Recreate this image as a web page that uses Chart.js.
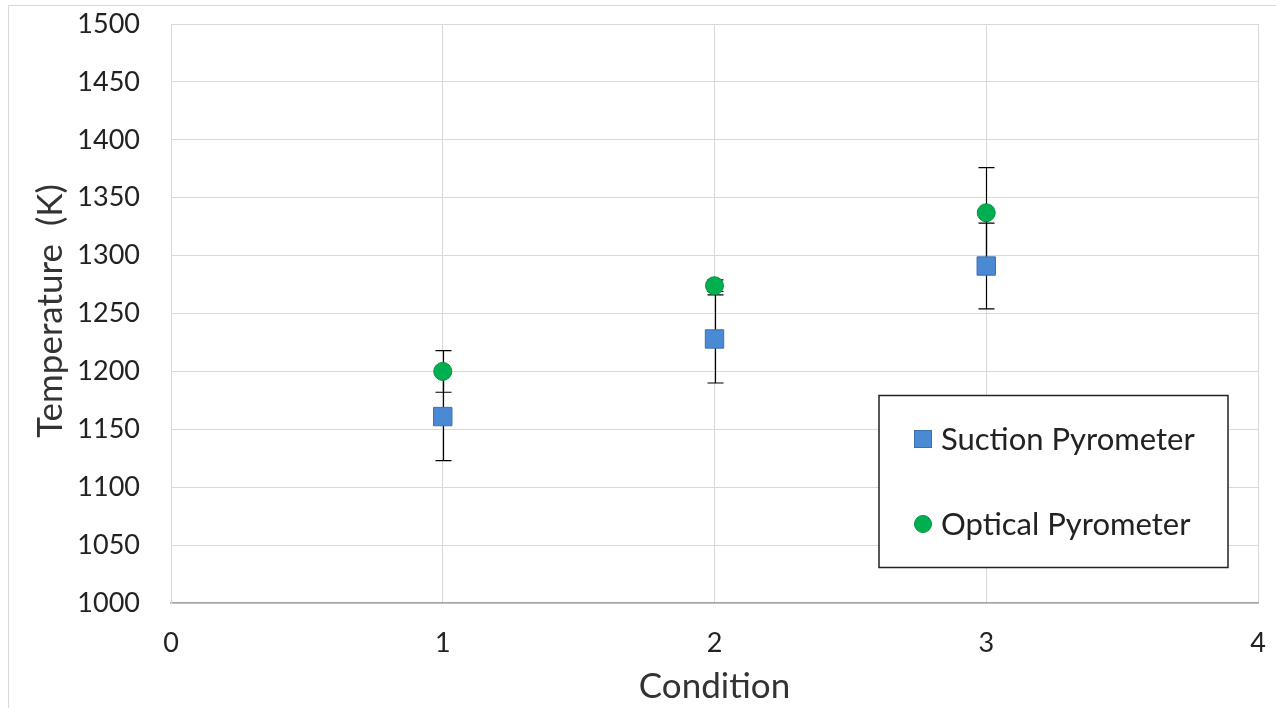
<!DOCTYPE html>
<html>
<head>
<meta charset="utf-8">
<script src="https://cdn.jsdelivr.net/npm/chart.js@4"></script>
<style>
  html, body { margin: 0; padding: 0; background: #fff; }
  #wrap { width: 1276px; height: 708px; position: relative; }
</style>
</head>
<body>
<div id="wrap"><canvas id="chart"></canvas></div>
<script>
// Données
const conditions = [1, 2, 3];
const suctionTemp = [1161, 1228, 1291];
const suctionErr = [38, 38, 37];
const opticalTemp = [1200, 1274, 1337];
const opticalErr = [18, 5, 39];
const seriesLabels = ['Suction Pyrometer', 'Optical Pyrometer'];
const xTitle = 'Condition';
const yTitle = 'Temperature  (K)';

const FONT = 'Lato, "Open Sans", sans-serif';

function toPoints(xs, ys, errs) {
    return xs.map((x, i) => ({ x: x, y: ys[i], err: errs[i] }));
}

// Barres d'erreur (dessinées avant les marqueurs)
const errorBars = {
    id: 'errorBars',
    beforeDatasetsDraw(chart) {
        const ctx = chart.ctx;
        const xs = chart.scales.x, ys = chart.scales.y;
        ctx.save();
        ctx.strokeStyle = '#000';
        ctx.lineWidth = 1.2;
        chart.data.datasets.forEach(ds => {
            ds.data.forEach(p => {
                const px = Math.round(xs.getPixelForValue(p.x)) + 0.5;
                const top = ys.getPixelForValue(p.y + p.err);
                const bot = ys.getPixelForValue(p.y - p.err);
                ctx.beginPath();
                ctx.moveTo(px, top); ctx.lineTo(px, bot);
                ctx.moveTo(px - 8, top); ctx.lineTo(px + 8, top);
                ctx.moveTo(px - 8, bot); ctx.lineTo(px + 8, bot);
                ctx.stroke();
            });
        });
        ctx.restore();
    }
};

// Légende encadrée, titre Y et cadre extérieur
const boxLegend = {
    id: 'boxLegend',
    afterDraw(chart) {
        const ctx = chart.ctx;
        ctx.save();
        ctx.strokeStyle = '#d9d9d9';
        ctx.lineWidth = 1;
        ctx.strokeRect(8.5, 5.5, 1290, 720);

        // titre de l'axe Y
        ctx.save();
        ctx.translate(51, 311);
        ctx.rotate(-Math.PI / 2);
        ctx.fillStyle = '#333';
        ctx.font = '35px ' + FONT;
        ctx.textAlign = 'center';
        ctx.textBaseline = 'middle';
        ctx.fillText(yTitle, 0, 0);
        ctx.restore();

        ctx.fillStyle = '#fff';
        ctx.fillRect(879, 395, 349, 172);
        ctx.strokeStyle = '#222';
        ctx.lineWidth = 1.5;
        ctx.strokeRect(879, 395.5, 349, 172);

        const rows = [439, 524];
        chart.data.datasets.forEach((ds, i) => {
            const y = rows[i];
            ctx.fillStyle = ds.backgroundColor;
            ctx.strokeStyle = ds.borderColor;
            ctx.lineWidth = 1;
            if (ds.pointStyle === 'rect') {
                ctx.fillRect(914, y - 9, 18, 18);
                ctx.strokeRect(914.5, y - 8.5, 17, 17);
            } else {
                ctx.beginPath();
                ctx.arc(923, y, 8.5, 0, Math.PI * 2);
                ctx.fill();
                ctx.stroke();
            }
            ctx.fillStyle = '#222';
            ctx.font = '31px ' + FONT;
            ctx.textBaseline = 'middle';
            ctx.fillText(ds.label, 941, y + 1);
        });
        ctx.restore();
    }
};

const chart = new Chart(document.getElementById('chart').getContext('2d'), {
    type: 'scatter',
    data: {
        datasets: [
            {
                label: seriesLabels[0],
                data: toPoints(conditions, suctionTemp, suctionErr),
                pointStyle: 'rect',
                pointRadius: 13,
                pointHoverRadius: 13,
                backgroundColor: '#4a8ad4',
                borderColor: '#3c6fae',
                borderWidth: 1,
            },
            {
                label: seriesLabels[1],
                data: toPoints(conditions, opticalTemp, opticalErr),
                pointStyle: 'circle',
                pointRadius: 9,
                pointHoverRadius: 9,
                backgroundColor: '#00b050',
                borderColor: '#00923f',
                borderWidth: 1,
            },
        ],
    },
    options: {
        responsive: true,
        maintainAspectRatio: false,
        animation: false,
        layout: { padding: { left: 8, right: 18, top: 24, bottom: 0 } },
        plugins: {
            legend: { display: false },
            tooltip: { enabled: false },
        },
        scales: {
            x: {
                type: 'linear',
                min: 0,
                max: 4,
                ticks: { stepSize: 1, color: '#222', padding: 24, font: { family: FONT, size: 27 } },
                grid: { color: '#d9d9d9', lineWidth: 1, drawTicks: false },
                border: { color: '#a6a6a6', width: 1.5 },
                title: {
                    display: true,
                    text: xTitle,
                    color: '#333',
                    font: { family: FONT, size: 35 },
                    padding: { top: 0, bottom: 0 },
                },
                afterFit(scale) {
                    scale.height = 105;
                    scale.paddingLeft = 0;
                    scale.paddingRight = 0;
                },
            },
            y: {
                min: 1000,
                max: 1500,
                ticks: {
                    stepSize: 50,
                    color: '#222',
                    padding: 31,
                    font: { family: FONT, size: 27 },
                    callback: v => String(v),
                },
                grid: { color: '#d9d9d9', lineWidth: 1, drawTicks: false },
                border: { color: '#d9d9d9', width: 1 },
                afterFit(scale) {
                    scale.width = 163;
                    scale.paddingTop = 0;
                    scale.paddingBottom = 0;
                },
            },
        },
    },
    plugins: [errorBars, boxLegend],
});
</script>
</body>
</html>
